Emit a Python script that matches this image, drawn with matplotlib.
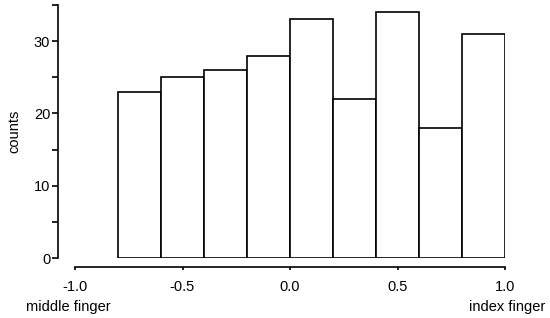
import matplotlib
matplotlib.use("Agg")
import matplotlib.pyplot as plt
import numpy as np

bin_edges = [-0.8, -0.6, -0.4, -0.2, 0.0, 0.2, 0.4, 0.6, 0.8, 1.0]
counts = [23, 25, 26, 28, 33, 22, 34, 18, 31]
xticks = [-1.0, -0.5, 0.0, 0.5, 1.0]
xtick_labels = ["-1.0", "-0.5", "0.0", "0.5", "1.0"]
yticks = [0, 10, 20, 30]
end_labels = ["middle finger", "index finger"]

plt.rcParams['font.family'] = ['Liberation Sans', 'DejaVu Sans']
fs = 10.5

fig = plt.figure(figsize=(5.5, 3.18), dpi=100)
ax = fig.add_axes([75/550, (318-258)/318, (505-75)/550, (258-5)/318])

lefts = np.array(bin_edges[:-1])
widths = np.diff(bin_edges)
ax.bar(lefts, counts, width=widths, align='edge', facecolor='white',
       edgecolor='black', linewidth=1.2)

ax.set_xlim(-1.0, 1.0)
ax.set_ylim(0, 35)
ax.spines['top'].set_visible(False)
ax.spines['right'].set_visible(False)
ax.spines['left'].set_position(('outward', 12.2))
ax.spines['bottom'].set_position(('outward', 6.6))
ax.spines['left'].set_linewidth(1.2)
ax.spines['bottom'].set_linewidth(1.2)

ax.set_xticks(xticks)
ax.set_xticklabels(xtick_labels, fontsize=fs)
ax.set_yticks(yticks)
ax.set_yticklabels([str(v) for v in yticks], fontsize=fs)
ax.set_yticks([5, 15, 25, 35], minor=True)
ax.tick_params(axis='y', which='both', direction='out', length=4.2, width=1.2, pad=1.5)
ax.tick_params(axis='x', which='major', direction='out', length=2.0, width=1.2, pad=7)
ax.set_ylabel('counts', fontsize=fs, labelpad=9)

ax.annotate(end_labels[0], xy=(-1.0, 0), xycoords=('data', 'axes fraction'),
            xytext=(-7, -53), textcoords='offset pixels', ha='center', va='baseline', fontsize=fs)
ax.annotate(end_labels[1], xy=(1.0, 0), xycoords=('data', 'axes fraction'),
            xytext=(2.5, -53), textcoords='offset pixels', ha='center', va='baseline', fontsize=fs)

fig.savefig('out.png', dpi=100)
